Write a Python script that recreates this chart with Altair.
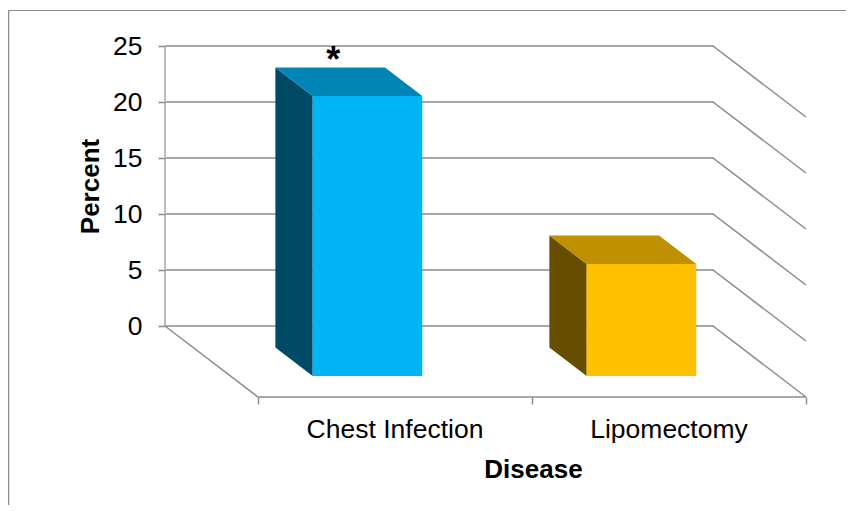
import altair as alt
import pandas as pd

# ---- chart values
categories = ["Chest Infection", "Lipomectomy"]
percents = [25, 10]
front_colors = ["#00B4F5", "#FFC000"]
side_colors = ["#004A66", "#664D00"]
top_colors = ["#0086B6", "#BF9000"]
tick_values = [0, 5, 10, 15, 20, 25]
annotation = ["*"]

# ---- oblique projection, expressed in data units
DX = 93 / 274          # category units gained by going from back wall to front edge
DY = 71 / 11.2         # percent units lost by going from back wall to front edge
BAR_BACK = 0.303       # depth of each bar's back face
BAR_FRONT = 0.704      # depth of each bar's front face
BAR_LO, BAR_HI = 0.3, 0.7
N = len(categories)

def px(c, d):
    return c + d * DX

def py(v, d):
    return v - d * DY

GRID = "#8C8C8C"
LW = 1.5
FONT = "Liberation Sans"

x_scale = alt.Scale(domain=[0, N + DX], nice=False, zero=False)
y_scale = alt.Scale(domain=[-DY, 25], nice=False, zero=False)
x_axis = alt.Axis(
    values=[px(i, 1) for i in range(N + 1)], labels=False, grid=False, domain=False,
    tickColor=GRID, tickSize=7, tickWidth=LW,
    titleFont=FONT, titleFontSize=26, titleFontWeight="bold", titleColor="black",
    titleX=368, titleY=80, titleAlign="center", titleBaseline="alphabetic")
y_axis = alt.Axis(
    values=tick_values, grid=False, domain=False, tickColor=GRID, tickSize=7, tickWidth=LW,
    labelFontSize=26.5, labelColor="black", labelFont=FONT, labelPadding=16,
    titleFont=FONT, titleFontSize=26, titleFontWeight="bold", titleColor="black",
    titleX=-75, titleY=140, titleAlign="center", titleAngle=-90, titleBaseline="middle")
X = lambda f="x": alt.X(f"{f}:Q", scale=x_scale, axis=x_axis, title="Disease")
Y = lambda f="y": alt.Y(f"{f}:Q", scale=y_scale, axis=y_axis, title="Percent")

# ---- frame lines of the graphic
frame_left = alt.Chart(pd.DataFrame({"k": [0]})).mark_rule(color=GRID, strokeWidth=1.5).encode(
    x=alt.value(-156.5), y=alt.value(-35.5), y2=alt.value(459))
frame_top = alt.Chart(pd.DataFrame({"k": [0]})).mark_rule(color=GRID, strokeWidth=1.2).encode(
    x=alt.value(-156.5), x2=alt.value(681), y=alt.value(-35.5))

# ---- gridlines: back wall, then side wall
grid_rows = []
for v in tick_values:
    for i, (c, d) in enumerate([(0, 0), (N, 0), (N, 1)]):
        grid_rows.append({"v": v, "i": i, "x": px(c, d), "y": py(v, d)})
grid = alt.Chart(pd.DataFrame(grid_rows)).mark_line(color=GRID, strokeWidth=LW).encode(
    x=X(), y=Y(), detail="v:N", order="i:Q")

wall = alt.Chart(pd.DataFrame({"x": [0, 0], "y": [0, 25], "i": [0, 1]})).mark_line(
    color="#A6A6A6", strokeWidth=LW).encode(x=X(), y=Y(), order="i:Q")

floor_pts = [(0, 0), (0, 1), (N, 1)]
floor = alt.Chart(pd.DataFrame([
    {"i": i, "x": px(c, d), "y": py(0, d)} for i, (c, d) in enumerate(floor_pts)
])).mark_line(color=GRID, strokeWidth=LW).encode(x=X(), y=Y(), order="i:Q")

# ---- bars
side_rows, top_rows, front_rows = [], [], []
for i, (name, v) in enumerate(zip(categories, percents)):
    lo, hi = i + BAR_LO, i + BAR_HI
    for d in (BAR_BACK, BAR_FRONT):
        side_rows.append({"name": name, "x": px(lo, d), "y": py(v, d), "y2": py(0, d)})
        top_rows.append({"name": name, "y": py(v, d), "x": px(lo, d), "x2": px(hi, d)})
    front_rows.append({"name": name, "x": px(lo, BAR_FRONT), "x2": px(hi, BAR_FRONT),
                       "y": py(v, BAR_FRONT), "y2": py(0, BAR_FRONT)})

def colour(values):
    return alt.Color("name:N", scale=alt.Scale(domain=categories, range=values), legend=None)

side = alt.Chart(pd.DataFrame(side_rows)).mark_area(opacity=1).encode(
    x=X(), y=Y(), y2="y2:Q", color=colour(side_colors), detail="name:N")
top = alt.Chart(pd.DataFrame(top_rows)).mark_area(opacity=1, orient="horizontal").encode(
    y=Y(), x=X(), x2="x2:Q", color=colour(top_colors), detail="name:N")
front = alt.Chart(pd.DataFrame(front_rows)).mark_rect(opacity=1).encode(
    x=X(), x2="x2:Q", y=Y(), y2="y2:Q", color=colour(front_colors))

# ---- category labels and annotation
labels = alt.Chart(pd.DataFrame({
    "name": categories,
    "x": [px(i + 0.5, 1) for i in range(N)],
    "y": [py(0, 1)] * N,
})).mark_text(font=FONT, fontSize=26.5, color="black", baseline="middle", dy=33).encode(
    x=X(), y=Y(), text="name:N")

star = alt.Chart(pd.DataFrame({
    "t": annotation,
    "x": [px(BAR_LO + (BAR_HI - BAR_LO) / 2, BAR_BACK)],
    "y": [py(percents[0], BAR_BACK)],
})).mark_text(font=FONT, fontSize=36, fontWeight="bold", color="black",
              baseline="middle", dx=3, dy=-7).encode(x=X(), y=Y(), text="t:N")

chart = alt.layer(
    frame_left, frame_top, grid, wall, floor, side, top, front, labels, star
).resolve_scale(color="independent").properties(
    width=641, height=351,
    padding={"left": 157, "top": 38, "right": 40, "bottom": 108},
    autosize=alt.AutoSizeParams(type="none"),
    background="white",
).configure_view(stroke=None)

chart.save("out.html", embed_options={"renderer": "svg", "actions": False})
